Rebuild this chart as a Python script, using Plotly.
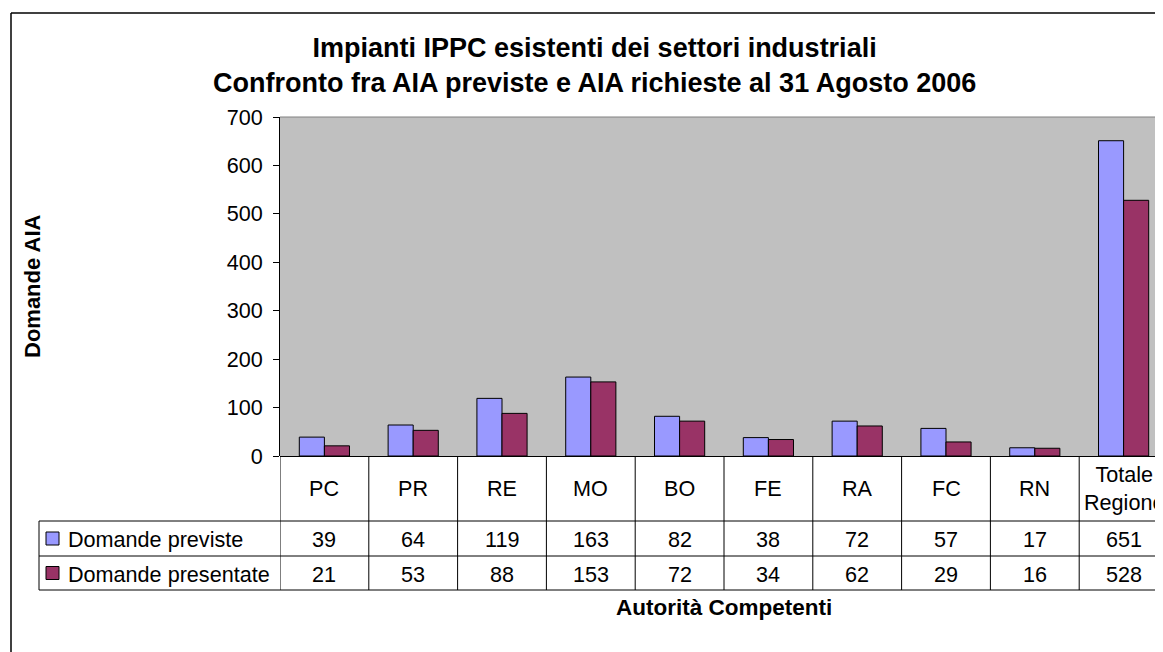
import plotly.graph_objects as go

categories = ["PC", "PR", "RE", "MO", "BO", "FE", "RA", "FC", "RN", "Totale Regione"]
cat_labels = ["PC", "PR", "RE", "MO", "BO", "FE", "RA", "FC", "RN", "Totale<br>Regione"]
previste = [39, 64, 119, 163, 82, 38, 72, 57, 17, 651]
presentate = [21, 53, 88, 153, 72, 34, 62, 29, 16, 528]
series_names = ["Domande previste", "Domande presentate"]
series_colors = ["#9999FF", "#993366"]

OFF = 8  # page body margin
W, H = 1163 - OFF, 652 - OFF
PL, PR, PT, PB = 280, 1163, 117, 456  # plot area in window pixels
FONT = "Liberation Sans, Arial, sans-serif"
FS = 21.6


def px_x(px):
    return (px - PL) / (PR - PL)


def px_y(py):
    return (PB - py) / (PB - PT)


fig = go.Figure()
for name, vals, col in zip(series_names, [previste, presentate], series_colors):
    fig.add_trace(go.Bar(
        x=list(range(len(categories))), y=vals, name=name,
        marker=dict(color=col, line=dict(color="#000000", width=1)),
        hoverinfo="y",
    ))

shapes = []
annotations = []

# outer chart frame
shapes.append(dict(type="line", xref="paper", yref="paper", x0=px_x(11), x1=px_x(11),
                   y0=px_y(13), y1=px_y(660), line=dict(color="#000000", width=1.5)))
shapes.append(dict(type="line", xref="paper", yref="paper", x0=px_x(11), x1=px_x(1170),
                   y0=px_y(13), y1=px_y(13), line=dict(color="#000000", width=1.5)))
# plot top border
shapes.append(dict(type="line", xref="paper", yref="paper", x0=0, x1=1, y0=1, y1=1,
                   line=dict(color="#808080", width=1)))

# data table lines
ROW_TOP, ROW1, ROW2, ROW_BOT = 456, 521, 556, 590
for k in range(len(categories)):
    shapes.append(dict(type="line", xref="x", yref="paper", x0=k - 0.5, x1=k - 0.5,
                       y0=px_y(ROW_TOP), y1=px_y(ROW_BOT), line=dict(color="#000000", width=1)))
for yy in (ROW1, ROW2, ROW_BOT):
    shapes.append(dict(type="line", xref="paper", yref="paper", x0=px_x(39), x1=1.02,
                       y0=px_y(yy), y1=px_y(yy), line=dict(color="#000000", width=1)))
shapes.append(dict(type="line", xref="paper", yref="paper", x0=px_x(39), x1=px_x(39),
                   y0=px_y(ROW1), y1=px_y(ROW_BOT), line=dict(color="#000000", width=1)))

# legend keys and names in the table
row_centers = [(ROW1 + ROW2) / 2, (ROW2 + ROW_BOT) / 2]
for name, col, rc in zip(series_names, series_colors, row_centers):
    shapes.append(dict(type="rect", xref="paper", yref="paper",
                       x0=px_x(46), x1=px_x(59), y0=px_y(rc - 6.5), y1=px_y(rc + 6.5),
                       fillcolor=col, line=dict(color="#000000", width=1)))
    annotations.append(dict(text=name, xref="paper", yref="paper", x=px_x(66), y=px_y(rc + 1),
                            xanchor="left", yanchor="middle", showarrow=False,
                            font=dict(family=FONT, size=FS, color="#000000")))

# category labels
for i, lab in enumerate(cat_labels):
    annotations.append(dict(text=lab, xref="x", yref="paper", x=i, y=px_y(488),
                            xanchor="center", yanchor="middle", showarrow=False,
                            font=dict(family=FONT, size=FS, color="#000000")))
# values
for vals, rc in zip([previste, presentate], row_centers):
    for i, v in enumerate(vals):
        annotations.append(dict(text=str(v), xref="x", yref="paper", x=i, y=px_y(rc + 1),
                                xanchor="center", yanchor="middle", showarrow=False,
                                font=dict(family=FONT, size=FS, color="#000000")))

# titles
annotations.append(dict(text="Impianti IPPC esistenti dei settori industriali<br>"
                             "Confronto fra AIA previste e AIA richieste al 31 Agosto 2006",
                        xref="paper", yref="paper", x=px_x(594), y=px_y(65),
                        xanchor="center", yanchor="middle", showarrow=False,
                        font=dict(family=FONT, size=27, color="#000000", weight="bold")))
annotations.append(dict(text="Domande AIA", xref="paper", yref="paper", x=px_x(32), y=px_y(286),
                        xanchor="center", yanchor="middle", showarrow=False, textangle=-90,
                        font=dict(family=FONT, size=22, color="#000000", weight="bold")))
annotations.append(dict(text="Autorità Competenti", xref="paper", yref="paper", x=px_x(724),
                        y=px_y(607), xanchor="center", yanchor="middle", showarrow=False,
                        font=dict(family=FONT, size=22.5, color="#000000", weight="bold")))

fig.update_layout(
    width=W, height=H,
    margin=dict(l=PL - OFF, r=W - (PR - OFF), t=PT - OFF, b=H - (PB - OFF), pad=0),
    paper_bgcolor="#FFFFFF", plot_bgcolor="#C0C0C0",
    barmode="group", bargap=0.435, bargroupgap=0,
    showlegend=False,
    font=dict(family=FONT, size=FS, color="#000000"),
    xaxis=dict(range=[-0.5, -0.5 + (PR - PL) / 88.8], showticklabels=False, ticks="",
               showgrid=False, zeroline=False, showline=False, fixedrange=True),
    yaxis=dict(range=[0, 700], dtick=100, tick0=0, ticks="outside", ticklen=6, tickcolor="#000000",
               tickwidth=1, showline=True, linecolor="#000000", linewidth=1, showgrid=False,
               zeroline=True, zerolinecolor="#000000", zerolinewidth=1,
               tickfont=dict(family=FONT, size=FS, color="#000000"), fixedrange=True,
               automargin=False, ticklabelstandoff=6),
    shapes=shapes, annotations=annotations,
)

fig.write_html("out.html")
